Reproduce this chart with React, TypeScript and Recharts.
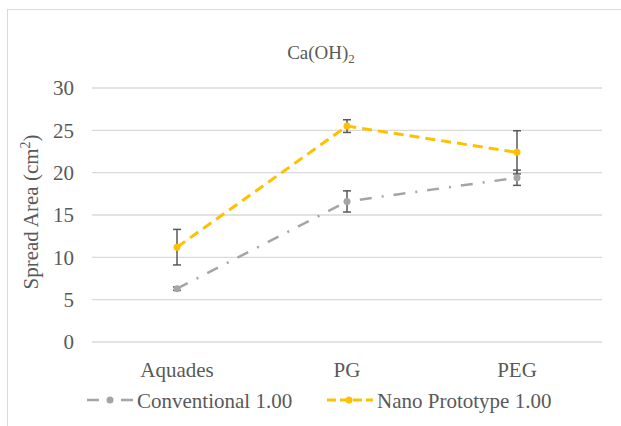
import { LineChart, Line, XAxis, YAxis, CartesianGrid, ErrorBar } from "recharts";

const categories = ["Aquades", "PG", "PEG"];
const conventional = [6.3, 16.6, 19.4];
const conventionalErr = [0.2, 1.25, 0.9];
const nano = [11.2, 25.5, 22.4];
const nanoErr = [2.1, 0.75, 2.55];
const yTicks = [0, 5, 10, 15, 20, 25, 30];

const GRAY = "#a5a5a5";
const GOLD = "#ffc000";
const TEXT = "#595959";
const GRID = "#d9d9d9";
const FONT = "'Liberation Serif', 'Times New Roman', serif";

const data = categories.map((name, i) => ({
  name,
  conv: conventional[i],
  convErr: conventionalErr[i],
  nano: nano[i],
  nanoErr: nanoErr[i],
}));

export default function App() {
  return (
    <div style={{ position: "absolute", left: 0, top: 0, width: 621, height: 426, overflow: "hidden", background: "#fff" }}>
      <div style={{ position: "absolute", left: 7, top: 9, width: 700, height: 500, border: `1px solid ${GRID}` }} />
      <LineChart
        width={621}
        height={426}
        data={data}
        margin={{ top: 88, right: 19, bottom: 54, left: 0 }}
        style={{ position: "absolute", left: 0, top: 0 }}
      >
        <CartesianGrid vertical={false} stroke={GRID} strokeWidth={1.3} />
        <XAxis
          dataKey="name"
          axisLine={false}
          tickLine={false}
          tickMargin={14}
          height={30}
          padding={{ left: 85, right: 85 }}
          tick={{ fill: TEXT, fontSize: 21, fontFamily: FONT }}
        />
        <YAxis
          domain={[0, 30]}
          ticks={yTicks}
          axisLine={false}
          tickLine={false}
          tickMargin={12}
          width={92}
          tick={{ fill: TEXT, fontSize: 21, fontFamily: FONT }}
        />
        <Line
          dataKey="nano"
          stroke={GOLD}
          strokeWidth={3}
          strokeDasharray="10 6"
          dot={{ r: 3.5, fill: GOLD, stroke: "none" }}
          activeDot={false}
          isAnimationActive={false}
        >
          <ErrorBar dataKey="nanoErr" width={4} stroke={TEXT} strokeWidth={1.5} isAnimationActive={false} />
        </Line>
        <Line
          dataKey="conv"
          stroke={GRAY}
          strokeWidth={2.5}
          strokeDasharray="12 10 2 10"
          dot={{ r: 3.5, fill: GRAY, stroke: "none" }}
          activeDot={false}
          isAnimationActive={false}
        >
          <ErrorBar dataKey="convErr" width={4} stroke={TEXT} strokeWidth={1.5} isAnimationActive={false} />
        </Line>
      </LineChart>
      <svg width={621} height={426} style={{ position: "absolute", left: 0, top: 0, pointerEvents: "none" }}>
        <text x={321} y={59} textAnchor="middle" fill={TEXT} fontSize={19} fontFamily={FONT}>
          Ca(OH)<tspan fontSize={13} dy={4}>2</tspan>
        </text>
        <text
          x={38}
          y={212}
          transform="rotate(-90 38 212)"
          textAnchor="middle"
          fill={TEXT}
          fontSize={21}
          fontFamily={FONT}
        >
          Spread Area (cm<tspan fontSize={14} dy={-8}>2</tspan><tspan dy={8}>)</tspan>
        </text>
        <g>
          <line x1={87} y1={400} x2={133} y2={400} stroke={GRAY} strokeWidth={2.5} strokeDasharray="12 10 2 10" />
          <circle cx={110} cy={400} r={3.5} fill={GRAY} />
          <text x={137} y={408} fill={TEXT} fontSize={21} fontFamily={FONT}>Conventional 1.00</text>
        </g>
        <g>
          <line x1={327} y1={400} x2={373} y2={400} stroke={GOLD} strokeWidth={3} strokeDasharray="9 4" />
          <circle cx={349} cy={400} r={3.5} fill={GOLD} />
          <text x={377} y={408} fill={TEXT} fontSize={21} fontFamily={FONT}>Nano Prototype 1.00</text>
        </g>
      </svg>
    </div>
  );
}
